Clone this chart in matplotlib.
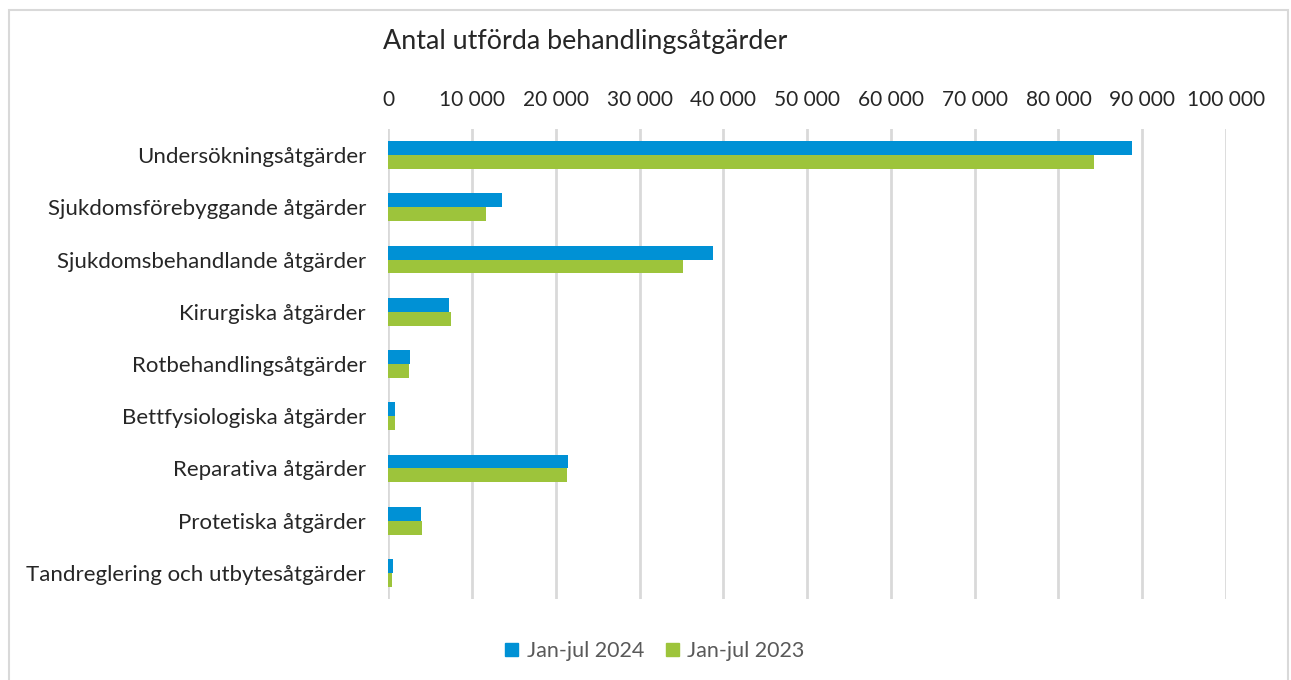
import matplotlib
matplotlib.use("Agg")
import matplotlib.pyplot as plt
import matplotlib.patches as mp
import matplotlib.ticker as mt
import numpy as np

plt.rcParams['font.family'] = ['Lato', 'DejaVu Sans']

# data
categories = ["Undersökningsåtgärder", "Sjukdomsförebyggande åtgärder",
              "Sjukdomsbehandlande åtgärder", "Kirurgiska åtgärder",
              "Rotbehandlingsåtgärder", "Bettfysiologiska åtgärder",
              "Reparativa åtgärder", "Protetiska åtgärder",
              "Tandreglering och utbytesåtgärder"]
jan_jul_2024 = [88800, 13600, 38800, 7250, 2630, 840, 21500, 3900, 560]
jan_jul_2023 = [84300, 11650, 35150, 7500, 2500, 840, 21350, 4050, 400]
series_names = ["Jan-jul 2024", "Jan-jul 2023"]

blue = "#0091D5"
green = "#9DC43B"

W, H = 1291, 680
fig = plt.figure(figsize=(W / 100, H / 100), dpi=100)

# outer chart border
border = mp.Rectangle((9 / W, -0.02), (1288 - 9) / W, 1.02 - 10 / H,
                      transform=fig.transFigure, fill=False,
                      edgecolor="#D9D9D9", linewidth=1.5)
fig.patches.append(border)

ax = fig.add_axes([388.3 / W, 1 - 599 / H, (1226 - 388.3) / W, (599 - 129) / H])

y = np.arange(len(categories))
h = 0.265
ax.barh(y - h / 2, jan_jul_2024, height=h, color=blue, label=series_names[0], zorder=3)
ax.barh(y + h / 2, jan_jul_2023, height=h, color=green, label=series_names[1], zorder=3)

ax.set_xlim(0, 100000)
ax.set_ylim(len(categories) - 0.5, -0.5)
ax.set_yticks(y)
ax.set_yticklabels(categories, fontsize=16, color="#262626")
ax.xaxis.tick_top()
ax.set_xticks(np.arange(0, 100001, 10000))
ax.xaxis.set_major_formatter(mt.FuncFormatter(lambda v, p: f"{int(v):,}".replace(",", " ")))
ax.tick_params(axis="x", length=0, pad=14, labelsize=15, labelcolor="#262626")
ax.tick_params(axis="y", length=0, pad=16)
ax.grid(axis="x", color="#D9D9D9", linewidth=2, zorder=0)
for s in ax.spines.values():
    s.set_visible(False)

fig.text(383 / W, 1 - 42 / H, "Antal utförda behandlingsåtgärder",
         fontsize=19.4, color="#262626", va="center", ha="left")

handles = [mp.Patch(color=blue), mp.Patch(color=green)]
fig.legend(handles, series_names, loc="center", bbox_to_anchor=(655 / W, 1 - 651 / H),
           ncol=2, frameon=False, fontsize=15.5, labelcolor="#595959",
           handlelength=0.6, handleheight=0.6, handletextpad=0.4, columnspacing=1.0)

fig.savefig("out.png", dpi=100)
